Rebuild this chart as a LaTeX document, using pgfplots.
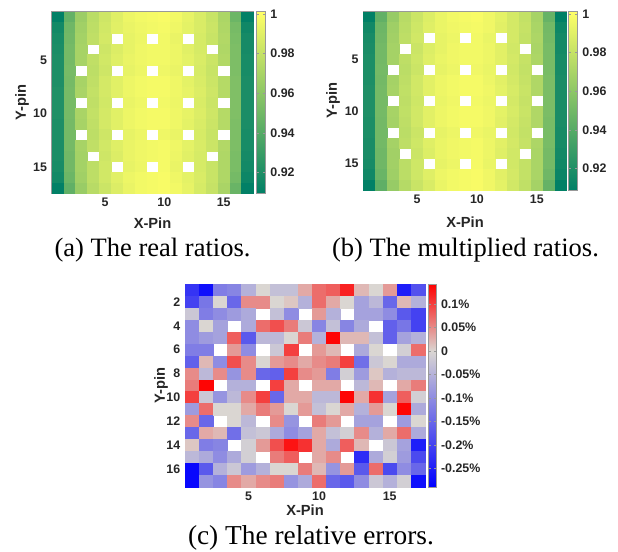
\documentclass[border=0pt]{standalone}
\usepackage{fontspec}
\setmainfont{Liberation Serif}
\setsansfont{Liberation Sans}
\usepackage{pgfplots}
\usepackage{pgfplotstable}
\pgfplotsset{compat=1.18}
\newcommand\tickfont{\fontsize{9.3}{10}\selectfont\sffamily\bfseries}
\newcommand\labfont{\fontsize{11}{12}\selectfont\sffamily\bfseries}
\newcommand\capfont{\fontsize{19.9}{22}\selectfont\rmfamily}
\newcommand\capfontc{\fontsize{20.5}{22}\selectfont\rmfamily}
\definecolor{axgray}{gray}{0.6}
\definecolor{txt}{gray}{0.15}

\pgfplotsset{colormap={summer}{rgb=(0,0.5,0.4) rgb=(1,1,0.4)}}
\pgfplotsset{colormap={bgr}{rgb255(0cm)=(0,0,255) rgb255(67cm)=(218,214,210) rgb255(100cm)=(255,0,0)}}

\pgfplotsset{
  /pgf/number format/assume math mode=true,
  colorbar shift/.style={},
  hm/.style={
    scale only axis, y dir=reverse,
    xmin=0.5, xmax=17.5, ymin=0.5, ymax=17.5,
    axis on top, tick align=inside, major tick length=2pt,
    tick style={axgray, line width=0.4pt},
    axis line style={axgray, line width=0.5pt},
    tick label style={font=\tickfont, text=txt},
    label style={font=\labfont, text=txt, inner sep=0.5pt},
    xtick={5,10,15},
    xlabel={X-Pin}, ylabel={Y-pin},
    colorbar,
  },
  cbs/.style={scale only axis, at={(parent axis.north east)}, anchor=north west,
    tick align=inside, major tick length=2pt,
    tick style={axgray, line width=0.4pt},
    axis line style={axgray, line width=0.5pt},
    tick label style={font=\tickfont, text=txt}},
}

% (a) real ratios: rows = Y-pin 1..17, columns = X-pin 1..17
\pgfplotstableread{
c1 c2 c3 c4 c5 c6 c7 c8 c9 c10 c11 c12 c13 c14 c15 c16 c17
0.910 0.945 0.965 0.976 0.983 0.989 0.994 0.996 0.997 0.998 0.996 0.992 0.987 0.981 0.971 0.948 0.910
0.916 0.949 0.967 0.977 0.984 0.990 0.993 0.995 0.996 0.997 0.995 0.991 0.987 0.982 0.972 0.952 0.915
0.918 0.950 0.968 0.978 0.985 nan 0.992 0.994 nan 0.996 0.993 nan 0.986 0.981 0.973 0.953 0.917
0.919 0.951 0.969 nan 0.983 0.988 0.992 0.995 0.996 0.996 0.994 0.990 0.986 nan 0.972 0.954 0.917
0.920 0.951 0.969 0.978 0.984 0.989 0.993 0.995 0.996 0.996 0.994 0.991 0.987 0.982 0.973 0.954 0.918
0.920 0.952 nan 0.977 0.983 nan 0.992 0.994 nan 0.995 0.993 nan 0.986 0.981 nan 0.954 0.918
0.920 0.951 0.969 0.978 0.985 0.990 0.994 0.996 0.997 0.997 0.995 0.991 0.987 0.982 0.974 0.955 0.919
0.921 0.952 0.970 0.979 0.985 0.990 0.994 0.996 0.997 0.997 0.995 0.992 0.988 0.983 0.974 0.955 0.919
0.921 0.952 nan 0.978 0.984 nan 0.993 0.995 nan 0.996 0.994 nan 0.987 0.982 nan 0.955 0.919
0.921 0.952 0.970 0.979 0.985 0.990 0.994 0.996 0.997 0.997 0.995 0.992 0.988 0.983 0.974 0.955 0.919
0.920 0.951 0.969 0.978 0.985 0.990 0.994 0.996 0.997 0.997 0.995 0.991 0.987 0.982 0.974 0.954 0.919
0.920 0.951 nan 0.977 0.983 nan 0.992 0.994 nan 0.995 0.993 nan 0.986 0.981 nan 0.954 0.918
0.919 0.951 0.969 0.978 0.984 0.989 0.993 0.995 0.996 0.997 0.995 0.991 0.987 0.982 0.973 0.954 0.918
0.919 0.950 0.968 nan 0.983 0.988 0.993 0.995 0.996 0.997 0.994 0.990 0.986 nan 0.972 0.953 0.917
0.918 0.950 0.968 0.977 0.984 nan 0.992 0.994 nan 0.997 0.993 nan 0.986 0.981 0.972 0.953 0.916
0.916 0.948 0.967 0.977 0.984 0.990 0.994 0.996 0.997 0.998 0.995 0.991 0.987 0.981 0.972 0.951 0.914
0.910 0.944 0.964 0.975 0.982 0.988 0.993 0.996 0.997 0.998 0.996 0.992 0.986 0.980 0.970 0.947 0.910
}\tabA

% (b) multiplied ratios
\pgfplotstableread{
c1 c2 c3 c4 c5 c6 c7 c8 c9 c10 c11 c12 c13 c14 c15 c16 c17
0.909 0.944 0.963 0.975 0.982 0.988 0.993 0.996 0.997 0.998 0.995 0.991 0.985 0.979 0.969 0.946 0.909
0.915 0.948 0.966 0.976 0.983 0.989 0.993 0.995 0.996 0.997 0.995 0.990 0.985 0.980 0.970 0.950 0.914
0.917 0.949 0.967 0.977 0.984 nan 0.992 0.994 nan 0.996 0.993 nan 0.985 0.979 0.971 0.951 0.916
0.918 0.950 0.968 nan 0.982 0.988 0.992 0.995 0.996 0.996 0.994 0.990 0.984 nan 0.970 0.952 0.916
0.919 0.950 0.968 0.977 0.983 0.989 0.993 0.995 0.996 0.996 0.994 0.990 0.985 0.980 0.971 0.952 0.917
0.919 0.951 nan 0.976 0.982 nan 0.992 0.994 nan 0.995 0.993 nan 0.984 0.979 nan 0.952 0.917
0.919 0.950 0.968 0.977 0.984 0.990 0.994 0.996 0.997 0.997 0.994 0.990 0.985 0.980 0.972 0.953 0.918
0.920 0.951 0.969 0.978 0.984 0.990 0.994 0.996 0.997 0.997 0.995 0.991 0.986 0.981 0.972 0.953 0.918
0.920 0.951 nan 0.977 0.983 nan 0.993 0.995 nan 0.996 0.994 nan 0.985 0.980 nan 0.953 0.918
0.920 0.951 0.969 0.978 0.984 0.990 0.994 0.996 0.997 0.997 0.995 0.991 0.986 0.981 0.972 0.953 0.918
0.919 0.950 0.968 0.977 0.984 0.990 0.994 0.996 0.997 0.997 0.995 0.990 0.985 0.980 0.972 0.952 0.918
0.919 0.950 nan 0.976 0.982 nan 0.992 0.994 nan 0.995 0.993 nan 0.984 0.979 nan 0.952 0.917
0.918 0.950 0.968 0.977 0.983 0.989 0.993 0.995 0.996 0.997 0.994 0.990 0.985 0.980 0.971 0.952 0.917
0.918 0.949 0.967 nan 0.982 0.988 0.993 0.995 0.996 0.997 0.994 0.989 0.984 nan 0.970 0.951 0.916
0.917 0.949 0.967 0.976 0.983 nan 0.992 0.994 nan 0.997 0.993 nan 0.984 0.979 0.970 0.951 0.915
0.915 0.947 0.966 0.976 0.983 0.989 0.994 0.996 0.997 0.998 0.995 0.990 0.985 0.979 0.970 0.949 0.913
0.909 0.943 0.963 0.974 0.981 0.987 0.993 0.996 0.997 0.998 0.995 0.991 0.984 0.978 0.968 0.945 0.909
}\tabB

% (c) relative errors in percent
\pgfplotstableread{
c1 c2 c3 c4 c5 c6 c7 c8 c9 c10 c11 c12 c13 c14 c15 c16 c17
-0.22 -0.27 -0.12 -0.11 -0.05 0.00 -0.03 -0.03 0.03 0.07 0.08 0.12 0.02 0.00 0.04 -0.25 -0.18
-0.20 -0.13 0.00 -0.15 0.05 0.05 0.00 0.01 -0.05 0.07 0.03 0.00 -0.07 -0.04 -0.15 0.02 -0.05
-0.02 -0.12 -0.10 -0.08 -0.06 nan -0.03 -0.10 nan 0.04 -0.05 nan -0.07 -0.07 -0.10 -0.17 -0.20
-0.10 0.00 -0.07 nan -0.06 0.07 0.09 0.06 -0.02 -0.11 -0.03 -0.11 -0.06 nan -0.16 -0.13 -0.20
-0.10 -0.08 -0.07 0.08 -0.17 -0.04 -0.04 0.00 0.06 -0.05 0.14 0.02 0.02 -0.03 -0.16 -0.07 -0.05
-0.12 -0.12 nan 0.04 -0.10 nan -0.02 0.10 nan 0.04 0.02 nan -0.06 0.00 nan -0.01 0.07
-0.16 0.02 -0.10 0.09 0.05 0.00 0.04 0.05 0.03 0.05 0.06 0.10 -0.14 -0.02 0.00 -0.06 -0.06
0.05 -0.04 0.05 -0.09 0.05 -0.15 -0.16 0.10 0.05 0.04 -0.12 -0.01 -0.08 0.01 -0.05 -0.04 -0.04
0.06 0.14 nan -0.05 -0.05 nan 0.10 0.03 nan 0.03 0.03 nan -0.04 0.02 nan 0.03 0.06
0.10 -0.02 -0.09 -0.04 0.05 0.10 -0.15 0.03 0.03 -0.04 -0.04 0.14 0.03 0.11 -0.07 0.08 -0.01
-0.08 0.07 0.00 0.00 0.03 0.06 0.04 0.00 0.04 -0.03 0.00 0.03 -0.05 0.04 0.00 0.14 -0.06
0.05 -0.15 nan 0.00 -0.04 nan 0.05 -0.09 nan 0.06 0.04 nan -0.07 -0.07 nan -0.08 0.00
-0.15 0.03 0.02 -0.14 -0.03 -0.02 -0.06 -0.10 -0.07 0.03 -0.03 -0.01 0.05 -0.05 0.03 0.07 -0.06
0.01 -0.12 -0.11 nan -0.01 0.04 0.09 0.13 0.11 0.03 -0.06 0.08 0.02 nan -0.02 -0.07 -0.25
-0.04 -0.06 -0.10 -0.06 -0.01 nan 0.06 0.08 nan 0.03 0.05 nan -0.23 -0.06 -0.01 -0.08 -0.19
-0.28 -0.17 -0.05 -0.02 -0.08 -0.05 0.00 0.00 0.06 0.02 -0.09 0.04 -0.17 0.07 -0.19 -0.10 -0.15
-0.28 -0.09 -0.11 0.05 0.03 0.05 0.06 -0.09 -0.06 0.07 -0.15 -0.17 -0.10 -0.02 -0.05 -0.01 -0.27
}\tabC

\begin{document}
\begin{tikzpicture}
\useasboundingbox (0,0) rectangle (463.5pt,-414pt);

% ---------- (a) ----------
\begin{axis}[hm, at={(38.8pt,-8.8pt)}, anchor=north west,
  width=151.2pt, height=136.35pt, ytick={5,10,15},
  colormap name=summer, point meta min=0.9093, point meta max=1.0012,
  xlabel style={at={([yshift=-21.9pt]axis description cs:0.5,0)}, anchor=center},
  ylabel style={at={([xshift=-22.3pt]axis description cs:0,0.5)}, anchor=center},
  colorbar style={cbs, width=6.75pt, xshift=2.55pt,
    ytick={0.92,0.94,0.96,0.98,1}, yticklabels={0.92,0.94,0.96,0.98,1}}]
\pgfplotsinvokeforeach{1,...,17}{
  \addplot[scatter, only marks, mark=square*, mark size=4.35pt, point meta=explicit,
    scatter/use mapped color={draw=mapped color, fill=mapped color},
    mark options={yscale=0.9018, line width=0.2pt}]
    table[x expr={#1+\thisrow{c#1}-\thisrow{c#1}}, y expr={\coordindex+1+\thisrow{c#1}-\thisrow{c#1}}, meta=c#1] {\tabA};
}
\end{axis}

% ---------- (b) ----------
\begin{axis}[hm, at={(272.5pt,-8.8pt)}, anchor=north west,
  width=152.5pt, height=133.7pt, ytick={5,10,15},
  colormap name=summer, point meta min=0.9088, point meta max=1.0012,
  xlabel style={at={([yshift=-23.8pt]axis description cs:0.5,0)}, anchor=center},
  ylabel style={at={([xshift=-22.7pt]axis description cs:0,0.5)}, anchor=center},
  colorbar style={cbs, width=6.75pt, xshift=1.5pt,
    ytick={0.92,0.94,0.96,0.98,1}, yticklabels={0.92,0.94,0.96,0.98,1}}]
\pgfplotsinvokeforeach{1,...,17}{
  \addplot[scatter, only marks, mark=square*, mark size=4.39pt, point meta=explicit,
    scatter/use mapped color={draw=mapped color, fill=mapped color},
    mark options={yscale=0.873, line width=0.2pt}]
    table[x expr={#1+\thisrow{c#1}-\thisrow{c#1}}, y expr={\coordindex+1+\thisrow{c#1}-\thisrow{c#1}}, meta=c#1] {\tabB};
}
\end{axis}

% ---------- (c) ----------
\begin{axis}[hm, at={(138.75pt,-213pt)}, anchor=north west,
  width=180pt, height=152.25pt, ytick={2,4,...,16},
  colormap name=bgr, point meta min=-0.290, point meta max=0.143,
  xlabel style={at={([yshift=-17.5pt]axis description cs:0.5,0)}, anchor=center},
  ylabel style={at={([xshift=-18pt]axis description cs:0,0.5)}, anchor=center},
  colorbar style={cbs, width=6pt, xshift=2.5pt,
    ytick={-0.25,-0.2,-0.15,-0.1,-0.05,0,0.05,0.1},
    yticklabels={-0.25\%,-0.2\%,-0.15\%,-0.1\%,-0.05\%,0,0.05\%,0.1\%}}]
\pgfplotsinvokeforeach{1,...,17}{
  \addplot[scatter, only marks, mark=square*, mark size=5.19pt, point meta=explicit,
    scatter/use mapped color={draw=mapped color, fill=mapped color},
    mark options={yscale=0.8435, line width=0.2pt}]
    table[x expr={#1+\thisrow{c#1}-\thisrow{c#1}}, y expr={\coordindex+1+\thisrow{c#1}-\thisrow{c#1}}, meta=c#1] {\tabC};
}
\end{axis}

\node[font=\capfont, anchor=base, inner sep=0pt] at (114.4pt,-192.75pt) {(a) The real ratios.};
\node[font=\capfont, anchor=base, inner sep=0pt] at (349.1pt,-192.75pt) {(b) The multiplied ratios.};
\node[font=\capfontc, anchor=base, inner sep=0pt] at (233.2pt,-408pt) {(c) The relative errors.};
\end{tikzpicture}
\end{document}
